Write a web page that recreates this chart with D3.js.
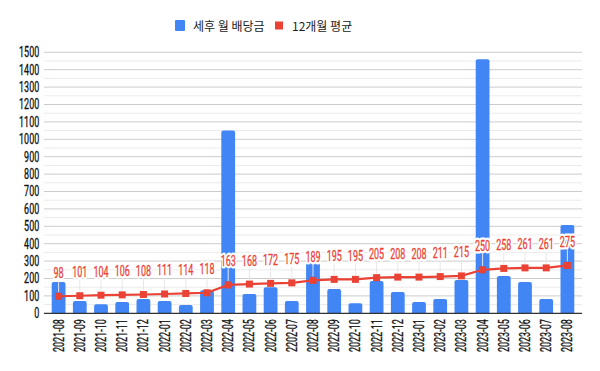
<!DOCTYPE html>
<html>
<head>
<meta charset="utf-8">
<script src="https://cdn.jsdelivr.net/npm/d3@7"></script>
<style>
  body { margin: 0; background: #fff; }
  svg text { font-family: Roboto, "Liberation Sans", sans-serif; }
</style>
</head>
<body>
<script>
var months = ["2021-08", "2021-09", "2021-10", "2021-11", "2021-12", "2022-01", "2022-02", "2022-03",
  "2022-04", "2022-05", "2022-06", "2202-07", "2022-08", "2022-09", "2022-10", "2022-11", "2022-12",
  "2023-01", "2023-02", "2023-03", "2023-04", "2023-05", "2023-06", "2023-07", "2023-08"];
var dividends = [180, 71, 52, 65, 82, 71, 48, 133, 1050, 111, 150, 71, 287, 139, 58, 186, 123,
  65, 82, 192, 1460, 215, 180, 82, 508];
var avg12 = [98, 101, 104, 106, 108, 111, 114, 118, 163, 168, 172, 175, 189, 195, 195, 205, 208,
  208, 211, 215, 250, 258, 261, 261, 275];
var yTicks = d3.range(0, 1501, 100);
var legendNames = ["세후 월 배당금", "12개월 평균"];

var width = 600, height = 371;
var blue = "#4285f4", red = "#ea4335";
var fs = 14;
var narrow = "scale(0.64,1)"; // condensed look of the original font

var svg = d3.select("body").append("svg")
  .attr("width", width)
  .attr("height", height);

var x = d3.scaleBand()
  .domain(months)
  .range([48, 578])
  .paddingInner(0.35)
  .paddingOuter(0.175);

var y = d3.scaleLinear()
  .domain([0, 1500])
  .range([313.3, 52.3]);

// grid lines, minor ones at the half steps
var grid = svg.append("g");
grid.selectAll(".minor")
  .data(d3.range(50, 1500, 100))
  .enter().append("line")
    .attr("x1", 44).attr("x2", 582)
    .attr("y1", function(d) { return y(d); })
    .attr("y2", function(d) { return y(d); })
    .attr("stroke", "#ebebeb");
grid.selectAll(".major")
  .data(yTicks.slice(1))
  .enter().append("line")
    .attr("x1", 44).attr("x2", 582)
    .attr("y1", function(d) { return y(d); })
    .attr("y2", function(d) { return y(d); })
    .attr("stroke", "#cccccc");

var yAxis = svg.append("g")
  .attr("transform", "translate(44,0)")
  .call(d3.axisLeft(y).tickValues(yTicks).tickFormat(d3.format("d")).tickSize(0).tickPadding(7.5));
yAxis.select(".domain").remove();
yAxis.selectAll("text")
  .attr("font-size", fs)
  .attr("fill", "#111")
  .attr("stroke", "#111")
  .attr("stroke-width", 0.3)
  .attr("transform", narrow)
  .style("font-family", null);

// bars with slightly rounded tops
svg.append("g").selectAll("path")
  .data(dividends)
  .enter().append("path")
    .attr("fill", blue)
    .attr("d", function(d, i) {
      var x0 = x(months[i]), w = x.bandwidth(), y0 = y(d), y1 = y(0), r = 2;
      return "M" + x0 + "," + y1 + "V" + (y0 + r) + "Q" + x0 + "," + y0 + " " + (x0 + r) + "," + y0 +
        "H" + (x0 + w - r) + "Q" + (x0 + w) + "," + y0 + " " + (x0 + w) + "," + (y0 + r) + "V" + y1 + "Z";
    });

var cx = function(i) { return x(months[i]) + x.bandwidth() / 2; };

// base line
svg.append("line")
  .attr("x1", 44).attr("x2", 582)
  .attr("y1", y(0)).attr("y2", y(0))
  .attr("stroke", "#333").attr("stroke-width", 1.2);

var xAxis = svg.append("g")
  .attr("transform", "translate(0," + y(0) + ")")
  .call(d3.axisBottom(x).tickSize(0).tickPadding(0));
xAxis.select(".domain").remove();
xAxis.selectAll("text")
  .style("font-family", null)
  .attr("font-size", fs)
  .attr("fill", "#111")
  .attr("stroke", "#111")
  .attr("stroke-width", 0.3)
  .attr("text-anchor", "end")
  .attr("dy", "0.35em")
  .attr("transform", "translate(0,6) rotate(-90) " + narrow)
  .attr("y", 0).attr("x", 0);

// leader lines from labels to points
svg.append("g").selectAll("line")
  .data(avg12)
  .enter().append("line")
    .attr("x1", function(d, i) { return cx(i); })
    .attr("x2", function(d, i) { return cx(i); })
    .attr("y1", function(d) { return y(d) - 16; })
    .attr("y2", function(d) { return y(d) - 4; })
    .attr("stroke", "#e6e6e6");

var line = d3.line()
  .x(function(d, i) { return cx(i); })
  .y(function(d) { return y(d); });

svg.append("path")
  .datum(avg12)
  .attr("fill", "none")
  .attr("stroke", red)
  .attr("stroke-width", 2.2)
  .attr("d", line);

svg.append("g").selectAll("rect")
  .data(avg12)
  .enter().append("rect")
    .attr("x", function(d, i) { return cx(i) - 3.5; })
    .attr("y", function(d) { return y(d) - 3.5; })
    .attr("width", 7).attr("height", 7)
    .attr("fill", red);

// labels: white halo first, then the red text
var labels = svg.append("g").selectAll("g")
  .data(avg12)
  .enter().append("g")
    .attr("transform", function(d, i) {
      return "translate(" + cx(i) + "," + (y(d) - 18.5) + ") " + narrow;
    })
    .attr("text-anchor", "middle")
    .attr("font-size", fs);
labels.append("text")
  .attr("fill", "#fff")
  .attr("stroke", "#fff")
  .attr("stroke-width", 5)
  .attr("stroke-linejoin", "round")
  .text(function(d) { return d; });
labels.append("text")
  .attr("fill", red)
  .attr("stroke", red)
  .attr("stroke-width", 0.3)
  .text(function(d) { return d; });

// legend
var legend = svg.append("g");
legend.append("rect")
  .attr("x", 175).attr("y", 20).attr("width", 10).attr("height", 11).attr("rx", 1)
  .attr("fill", blue);
legend.append("text")
  .attr("x", 193).attr("y", 30.5)
  .attr("font-size", 12)
  .attr("fill", "#222")
  .style("font-family", "'Noto Sans CJK KR', sans-serif")
  .text(legendNames[0]);
legend.append("rect")
  .attr("x", 275).attr("y", 21.5).attr("width", 8).attr("height", 8)
  .attr("fill", red);
legend.append("text")
  .attr("x", 292).attr("y", 30.5)
  .attr("font-size", 12)
  .attr("fill", "#222")
  .style("font-family", "'Noto Sans CJK KR', sans-serif")
  .text(legendNames[1]);
</script>
</body>
</html>
